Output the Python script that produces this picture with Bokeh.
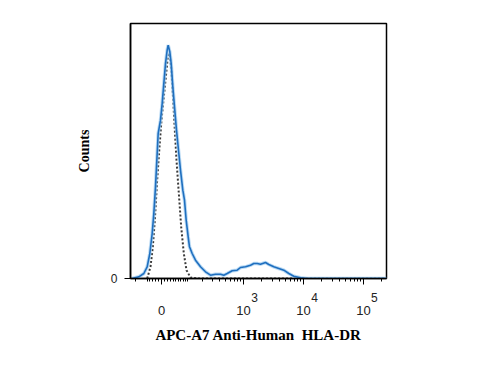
import numpy as np
from bokeh.plotting import figure
from bokeh.models import Range1d, FixedTicker, LinearAxis
from bokeh.embed import file_html
from bokeh.resources import INLINE

# Display channel (0..1024, logicle-like scale) and normalised counts
blue_ch = [6.7, 33.3, 53.3, 66.7, 77.3, 86.7, 93.3, 100, 106.7, 110.7, 120, 126.7, 133.3, 140,
           146.7, 150.7, 157.3, 162.7, 169.3, 176, 184, 193.3, 200, 209.3, 216, 222.7, 230.7,
           236, 246.7, 260, 280, 300, 320, 340, 360, 373.3, 386.7, 406.7, 426.7, 440, 460,
           480, 493.3, 506.7, 520, 540, 553.3, 573.3, 593.3, 613.3, 633.3, 653.3, 680, 706.7, 1024]
blue_cnt = [0, 1.7, 5, 11.7, 25, 45, 65, 91.7, 125, 145, 158.3, 175, 195, 215,
            228.3, 233.3, 226.7, 215, 191.7, 171.7, 148.3, 125, 108.3, 88.3, 78.3, 58.3, 41.7,
            31.7, 25, 18.3, 11.7, 6.7, 3.3, 4.3, 4.3, 3.3, 5, 7.7, 8.3, 11, 11.7,
            13.3, 15, 15, 14.3, 16, 14, 11.7, 10, 8.3, 5, 2.3, 0.7, 0, 0]

iso_ch = [66.7, 80, 89.3, 97.3, 106.7, 116, 124, 133.3, 142.7, 149.3, 156, 162.7, 169.3,
          177.3, 184, 193.3, 202.7, 213.3, 224, 240, 266.7, 1024]
iso_cnt = [0, 11.7, 31.7, 58.3, 98.3, 131.7, 158.3, 181.7, 205, 221.7, 225, 211.7, 185,
           148.3, 118.3, 85, 51.7, 25, 8.3, 1, 0, 0]

major_vals = [0, 1e3, 1e4, 1e5]
major_labels = ["0", "10", "10", "10"]
major_sups = ["3", "4", "5"]          # exponents of 1e3, 1e4, 1e5
minor_vals = ([-100, -50, -40, -30, -20, -10, 10, 20, 30, 40, 50, 60, 70, 80, 90, 100]
              + [200, 300, 400, 500, 600, 700, 800, 900]
              + [2000, 3000, 4000, 5000, 6000, 7000, 8000, 9000]
              + [20000, 30000, 40000, 50000, 60000, 70000, 80000, 90000, 200000])


def to_channel(v):
    v = np.asarray(v, dtype=float)
    return 124 + 240 * np.arcsinh(v / 86.1) / np.log(10)


p = figure(width=480, height=350, output_backend="svg", toolbar_location=None,
           x_range=Range1d(0, 1024), y_range=Range1d(0, 255))
p.min_border_left = 130
p.min_border_right = 94
p.min_border_top = 23
p.min_border_bottom = 72
p.grid.visible = False
p.outline_line_color = "black"
p.outline_line_width = 1.5
p.background_fill_color = "white"
p.border_fill_color = "white"

maj = [float(c) for c in to_channel(major_vals)]
mnr = [float(c) for c in to_channel(minor_vals)]

# axis A: line and ticks only
xa = p.xaxis[0]
xa.ticker = FixedTicker(ticks=maj, minor_ticks=mnr)
xa.major_label_overrides = {m: "" for m in maj}
xa.major_label_text_font_size = "1px"
xa.major_label_standoff = 0
xa.axis_line_color = "black"
xa.axis_line_width = 1.5
xa.major_tick_out = 6
xa.major_tick_in = 0
xa.minor_tick_out = 3
xa.minor_tick_in = 0
xa.major_tick_line_color = "black"
xa.minor_tick_line_color = "black"

# axis B: exponents (placed just right of each decade tick)
sup_pos = [m + 44 for m in maj[1:]]
xb = LinearAxis(ticker=FixedTicker(ticks=sup_pos, minor_ticks=[]))
xb.major_label_overrides = {m: s for m, s in zip(sup_pos, major_sups)}
xb.major_label_text_font = "Liberation Sans"
xb.major_label_text_font_size = "12px"
xb.major_label_text_color = "#222222"
xb.major_label_standoff = 8
xb.axis_line_color = None
xb.major_tick_line_color = None
xb.minor_tick_line_color = None
xb.major_tick_out = 0
xb.major_tick_in = 0
xb.minor_tick_out = 0
xb.minor_tick_in = 0
p.add_layout(xb, "below")

# axis C: mantissas and axis title
xc = LinearAxis(ticker=FixedTicker(ticks=maj, minor_ticks=[]))
xc.major_label_overrides = {m: t for m, t in zip(maj, major_labels)}
xc.major_label_text_font = "Liberation Sans"
xc.major_label_text_font_size = "13px"
xc.major_label_text_color = "#222222"
xc.major_label_standoff = 1
xc.axis_line_color = None
xc.major_tick_line_color = None
xc.minor_tick_line_color = None
xc.major_tick_out = 0
xc.major_tick_in = 0
xc.minor_tick_out = 0
xc.minor_tick_in = 0
xc.axis_label = "APC-A7 Anti-Human\u00a0 HLA-DR"
xc.axis_label_text_font = "Liberation Serif"
xc.axis_label_text_font_style = "bold"
xc.axis_label_text_font_size = "15px"
xc.axis_label_text_color = "black"
xc.axis_label_standoff = 9
p.add_layout(xc, "below")

ya = p.yaxis[0]
ya.ticker = FixedTicker(ticks=[0], minor_ticks=[])
ya.major_label_overrides = {0: "0"}
ya.major_label_text_font = "Liberation Sans"
ya.major_label_text_font_size = "12px"
ya.major_label_text_color = "#222222"
ya.major_label_standoff = 7
ya.axis_line_color = "black"
ya.axis_line_width = 1.5
ya.major_tick_out = 6
ya.major_tick_in = 0
ya.minor_tick_out = 0
ya.axis_label = "Counts"
ya.axis_label_text_font = "Liberation Serif"
ya.axis_label_text_font_style = "bold"
ya.axis_label_text_font_size = "14px"
ya.axis_label_text_color = "black"
ya.axis_label_standoff = 16

# curves
p.line(iso_ch, iso_cnt, line_color="#3a3a3a", line_width=2, line_dash="2 2")
p.line(blue_ch, blue_cnt, line_color="#9ccbf0", line_width=3.5, line_alpha=0.7)
p.line(blue_ch, blue_cnt, line_color="#1f6fbf", line_width=1.6)

open("out.html", "w").write(file_html(p, INLINE))
